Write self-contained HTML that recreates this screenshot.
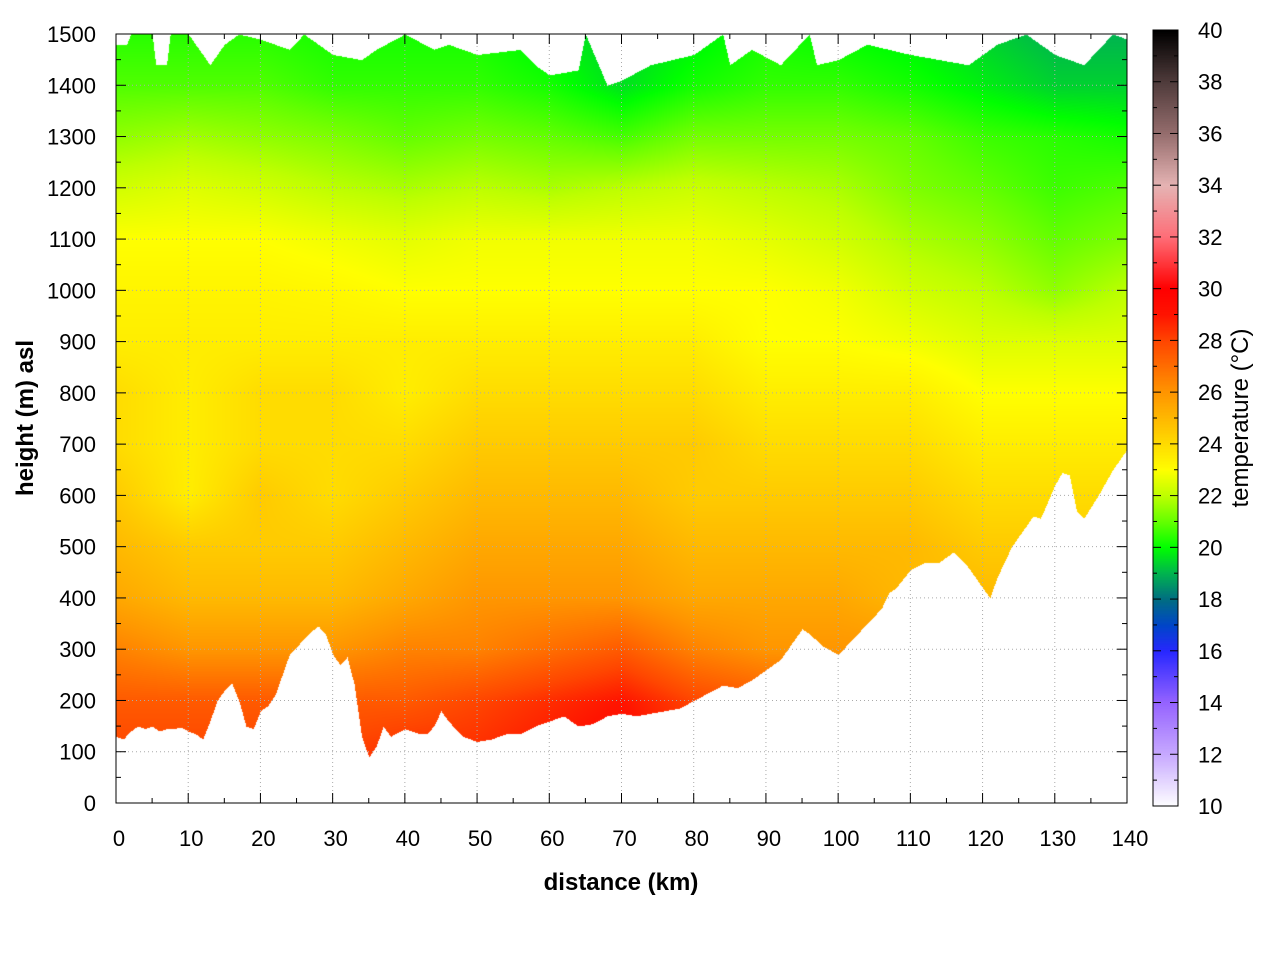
<!DOCTYPE html>
<html><head><meta charset="utf-8"><style>
body{margin:0;background:#fff;width:1280px;height:960px;overflow:hidden;font-family:"Liberation Sans",sans-serif}
#hm{position:absolute;left:116px;top:34px}
#cb{position:absolute;left:1153px;top:30px}
svg{position:absolute;left:0;top:0}
</style></head><body>
<canvas id="hm" width="1011" height="769"></canvas>
<canvas id="cb" width="25" height="776"></canvas>
<svg id="ax" width="1280" height="960"></svg>
<script>
const distCols=[0,10,20,30,40,50,60,70,80,90,100,110,120,130,140];
const heightRows=[0,100,200,300,400,500,600,700,800,900,1000,1100,1200,1300,1400,1500];
const tempGrid=[
[28,28,28,28,28.5,28.5,29,29.5,28.5,28,27.5,27.5,27.5,27.5,27.5],
[28,28,28,28,28.5,28.5,29,29.5,28.5,28,27.5,27.5,27.5,27.5,27.5],
[27.5,27.5,27.5,27.5,27.5,28,28.5,29,28,27.5,27,27,27,27,27],
[26.5,26,26,26,26.5,26.5,27,27.5,26.5,26,26,26,25.5,25.5,25.5],
[25.5,25,25,25,25.5,26,26,26,25.5,25.5,25.5,25,25,25,25],
[25,24.5,24.5,24.5,25,25.5,25.5,25.5,25,25,25,25,24.5,24.5,24.5],
[24.5,23.5,24.5,24,24.5,25,25,25,24.5,24.5,24.5,24.5,24,24,24],
[24,23.5,24,24,24,24.5,24.5,24.5,24.5,24,24,24,23.5,23.5,23.5],
[24,23.5,24,24,23.5,24,24,24,24,23.5,23.5,23.5,23,23,23],
[23.5,23.5,23.5,23.5,23.5,23.5,23.5,23.5,23.5,23,23,22.8,22.5,22.5,22.5],
[23.3,23.3,23.3,23.2,23,23,23,23,23,23,22.8,22.3,22,21.5,22],
[23,23,23,22.8,22.6,22.8,22.8,22.8,22.8,22.6,22.3,21.8,21.5,21,21.3],
[22.3,22.5,22.3,22,21.8,22,21.8,22,22.2,22,21.8,21.3,21,20.6,20.8],
[21.5,21.7,21.5,21.3,21,21.2,21,20.7,21.2,21.2,21.2,21,20.6,20.4,20.2],
[20.8,20.8,20.8,20.5,20.5,20.5,20.2,19.6,20.2,20.5,20.5,20.2,19.8,19.4,19.4],
[20.4,20.4,20.4,20.2,20.2,20.2,19.8,19.4,19.8,20.2,20,19.8,19.4,19,19]];
const terrainDist=[0,1,2,3,4,5,6,7,8,9,10,11,12,13,14,15,16,17,18,19,20,21,22,23,24,25,26,27,28,29,30,31,32,33,34,35,36,37,38,40,42,43,44,45,46,48,50,52,54,56,58,60,62,64,66,68,70,72,74,76,78,80,82,84,86,88,90,92,94,95,96,98,100,102,104,106,107,108,110,112,114,116,118,120,121,122,124,126,127,128,130,131,132,133,134,136,138,140];
const terrainH=[130,125,140,150,145,150,140,145,145,148,140,135,125,160,200,220,235,200,150,145,180,190,210,250,290,305,320,335,345,330,290,270,285,230,130,90,110,150,130,145,135,135,150,180,160,130,120,125,135,135,150,160,170,150,155,170,175,170,175,180,185,200,215,230,225,240,260,280,320,340,330,305,290,320,350,380,410,420,455,470,470,490,460,420,400,440,500,540,560,555,620,645,640,570,555,600,650,690];
const topDist=[0,1.5,2,3.5,4,5,5.5,7,7.5,10,13,15,17,20,24,26,30,34,36,40,44,46,50,56,58,60,64,65,68,70,74,80,84,85,88,92,96,97,100,104,110,118,122,126,130,134,138,140];
const topH=[1480,1480,1500,1500,1500,1500,1440,1440,1500,1500,1440,1480,1500,1490,1470,1500,1460,1450,1470,1500,1470,1480,1460,1470,1440,1420,1430,1500,1400,1410,1440,1460,1500,1440,1470,1440,1500,1440,1450,1480,1460,1440,1480,1500,1460,1440,1500,1490];
const cmapT=[10,12,14,16,17,18,19,20,21,22,23,24,25,26,27,28,29,30,32,34,36,38,40];
const cmapC=[[255,255,255],[200,170,255],[150,100,255],[40,40,255],[0,70,200],[0,110,130],[0,180,80],[0,255,0],[100,255,0],[190,255,0],[255,255,0],[255,220,0],[255,185,0],[255,150,0],[255,110,0],[255,70,0],[255,20,0],[255,0,0],[255,110,120],[230,180,180],[150,110,110],[80,60,60],[0,0,0]];
function color(t){if(t<=cmapT[0])return cmapC[0];for(let i=1;i<cmapT.length;i++){if(t<=cmapT[i]){const f=(t-cmapT[i-1])/(cmapT[i]-cmapT[i-1]);const a=cmapC[i-1],b=cmapC[i];return[a[0]+(b[0]-a[0])*f,a[1]+(b[1]-a[1])*f,a[2]+(b[2]-a[2])*f];}}return cmapC[cmapC.length-1];}
function interp1(xs,ys,x){if(x<=xs[0])return ys[0];for(let i=1;i<xs.length;i++)if(x<=xs[i]){const f=(x-xs[i-1])/(xs[i]-xs[i-1]);return ys[i-1]+(ys[i]-ys[i-1])*f;}return ys[ys.length-1];}
const X0=116,X1=1127,Y0=803,Y1=34;
const xS=d=>X0+(d/140)*(X1-X0), yS=h=>Y0-(h/1500)*(Y0-Y1);
const W=1011,H=769;
const cv=document.getElementById('hm'),ctx=cv.getContext('2d'),img=ctx.createImageData(W,H);
for(let px=0;px<W;px++){const d=px/W*140;const g=interp1(terrainDist,terrainH,d),tp=interp1(topDist,topH,d);
 const ci=Math.min(13,Math.floor(d/10)),fx=(d-distCols[ci])/10;
 for(let py=0;py<H;py++){const h=(H-py)/H*1500;const k=(py*W+px)*4;
  if(h<g||h>tp){img.data[k]=255;img.data[k+1]=255;img.data[k+2]=255;img.data[k+3]=255;continue;}
  const ri=Math.min(14,Math.floor(h/100)),fy=(h-heightRows[ri])/100;
  const t=(tempGrid[ri][ci]*(1-fx)+tempGrid[ri][ci+1]*fx)*(1-fy)+(tempGrid[ri+1][ci]*(1-fx)+tempGrid[ri+1][ci+1]*fx)*fy;
  const c=color(t);img.data[k]=c[0];img.data[k+1]=c[1];img.data[k+2]=c[2];img.data[k+3]=255;}}
ctx.putImageData(img,0,0);
const cb=document.getElementById('cb'),cc=cb.getContext('2d');
for(let y=0;y<776;y++){const c=color(40-y/776*30);cc.fillStyle=`rgb(${c[0]|0},${c[1]|0},${c[2]|0})`;cc.fillRect(0,y,25,1);}
const NS='http://www.w3.org/2000/svg',svg=document.getElementById('ax');
function el(t,a,txt){const e=document.createElementNS(NS,t);for(const k in a)e.setAttribute(k,a[k]);if(txt!==undefined)e.textContent=txt;svg.appendChild(e);return e;}
const xTicks=[0,10,20,30,40,50,60,70,80,90,100,110,120,130,140];
const yTicks=[0,100,200,300,400,500,600,700,800,900,1000,1100,1200,1300,1400,1500];
const cbTicks=[10,12,14,16,18,20,22,24,26,28,30,32,34,36,38,40];
for(const v of xTicks){const x=xS(v);
 if(v>0&&v<140){const l=el('line',{x1:x,x2:x,y1:Y1,y2:Y0,stroke:'#aaa','stroke-width':1,'stroke-dasharray':'1,3'});}
 el('line',{x1:x,x2:x,y1:Y0,y2:Y0-10,stroke:'#000'});el('line',{x1:x,x2:x,y1:Y1,y2:Y1+10,stroke:'#000'});
 const t=el('text',{x:x+3,y:846,'font-size':22,'text-anchor':'middle'},v);
 if(v<140){const m=xS(v+5);el('line',{x1:m,x2:m,y1:Y0,y2:Y0-5,stroke:'#000'});el('line',{x1:m,x2:m,y1:Y1,y2:Y1+5,stroke:'#000'});}}
for(const v of yTicks){const y=yS(v);
 if(v>0&&v<1500){const l=el('line',{x1:X0,x2:X1,y1:y,y2:y,stroke:'#aaa','stroke-width':1,'stroke-dasharray':'1,3'});}
 el('line',{x1:X0,x2:X0+10,y1:y,y2:y,stroke:'#000'});el('line',{x1:X1,x2:X1-10,y1:y,y2:y,stroke:'#000'});
 const t=el('text',{x:96,y:y+8,'font-size':22,'text-anchor':'end'},v);
 if(v<1500){const m=yS(v+50);el('line',{x1:X0,x2:X0+5,y1:m,y2:m,stroke:'#000'});el('line',{x1:X1,x2:X1-5,y1:m,y2:m,stroke:'#000'});}}
const fr=el('rect',{x:X0,y:Y1,width:X1-X0,height:Y0-Y1,fill:'none',stroke:'#000'});
const cbY=v=>806-(v-10)/30*776;
el('rect',{x:1153,y:30,width:25,height:776,fill:'none',stroke:'#000'});
for(const v of cbTicks){const y=cbY(v);el('line',{x1:1153,x2:1161,y1:y,y2:y,stroke:'#000'});el('line',{x1:1178,x2:1170,y1:y,y2:y,stroke:'#000'});
 if(v<40){const m=cbY(v+1);el('line',{x1:1153,x2:1157,y1:m,y2:m,stroke:'#000'});el('line',{x1:1178,x2:1174,y1:m,y2:m,stroke:'#000'});}
 const t=el('text',{x:1198,y:y+8,'font-size':22},v);}
const xt=el('text',{x:621,y:890,'font-size':24,'font-weight':'bold','text-anchor':'middle'},'distance (km)');
const yt=el('text',{x:0,y:0,'font-size':24,'font-weight':'bold','text-anchor':'middle',transform:'translate(33,418) rotate(-90)'},'height (m) asl');
const ct=el('text',{x:0,y:0,'font-size':24,'text-anchor':'middle',transform:'translate(1248,418) rotate(-90)'},'temperature (°C)');
</script>
</body></html>
